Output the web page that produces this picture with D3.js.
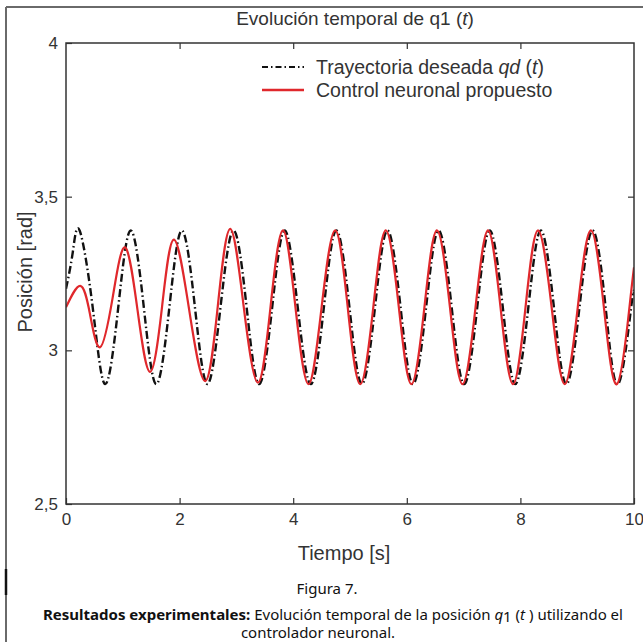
<!DOCTYPE html>
<html>
<head>
<meta charset="utf-8">
<script src="https://cdn.jsdelivr.net/npm/d3@7"></script>
<style>
  body { margin: 0; background: #fff; }
  svg { display: block; }
  .axis text { font-family: "Liberation Sans", Arial, sans-serif; font-size: 17px; fill: #333; }
  .axis line { stroke: #333; stroke-width: 1.2; }
  .lbl { font-family: "Liberation Sans", Arial, sans-serif; fill: #333; }
  .cap { font-family: "Noto Sans", "Open Sans", sans-serif; font-size: 15px; fill: #111; }
</style>
</head>
<body>
<div id="chart"></div>
<script>
// x ticks, y ticks
const xTicks = [0, 2, 4, 6, 8, 10];
const yTicks = [2.5, 3, 3.5, 4];

// desired trajectory qd(t)
const tDesired = [0, 0.12, 0.24, 0.47, 0.69, 0.92, 1.14, 1.37, 1.59, 1.82, 2.04, 2.27, 2.49, 2.72,
  2.95, 3.18, 3.40, 3.63, 3.85, 4.08, 4.31, 4.54, 4.76, 4.99, 5.21, 5.44, 5.66, 5.89, 6.11, 6.34,
  6.56, 6.79, 7.01, 7.24, 7.46, 7.69, 7.91, 8.14, 8.36, 8.59, 8.81, 9.04, 9.27, 9.50, 9.72, 9.95, 10];
const qDesired = [3.20, 3.32, 3.39, 3.14, 2.89, 3.14, 3.39, 3.14, 2.89, 3.14, 3.39, 3.14, 2.89, 3.14,
  3.39, 3.14, 2.89, 3.14, 3.39, 3.14, 2.89, 3.14, 3.39, 3.14, 2.89, 3.14, 3.39, 3.14, 2.89, 3.14,
  3.39, 3.14, 2.89, 3.14, 3.39, 3.14, 2.89, 3.14, 3.39, 3.14, 2.89, 3.14, 3.39, 3.14, 2.89, 3.14, 3.18];

// neural control response q1(t)
const tControl = [0, 0.25, 0.42, 0.60, 0.82, 1.04, 1.26, 1.48, 1.69, 1.90, 2.17, 2.45, 2.67, 2.89,
  3.13, 3.38, 3.60, 3.82, 4.04, 4.27, 4.50, 4.74, 4.96, 5.18, 5.41, 5.63, 5.86, 6.08, 6.31, 6.53,
  6.76, 6.98, 7.21, 7.43, 7.65, 7.87, 8.09, 8.31, 8.55, 8.78, 9.01, 9.24, 9.47, 9.70, 9.92, 10];
const qControl = [3.14, 3.21, 3.12, 3.01, 3.17, 3.335, 3.13, 2.93, 3.14, 3.36, 3.13, 2.90, 3.14, 3.395,
  3.14, 2.895, 3.14, 3.39, 3.14, 2.89, 3.14, 3.39, 3.14, 2.89, 3.14, 3.39, 3.14, 2.89, 3.14, 3.39,
  3.14, 2.89, 3.14, 3.39, 3.14, 2.89, 3.14, 3.39, 3.14, 2.89, 3.14, 3.39, 3.14, 2.89, 3.14, 3.27];

const W = 643, H = 642;
const margin = {top: 43, right: 9, bottom: 138, left: 66},
      width = W - margin.left - margin.right,
      height = H - margin.top - margin.bottom;

const svg = d3.select('#chart').append('svg')
    .attr('width', W)
    .attr('height', H);

// outer frame of the page
svg.append('line').attr('x1', 6).attr('x2', 6).attr('y1', 7).attr('y2', H)
    .attr('stroke', '#6a6a6a').attr('stroke-width', 2);
svg.append('line').attr('x1', 6).attr('x2', W).attr('y1', 7).attr('y2', 7)
    .attr('stroke', '#6a6a6a').attr('stroke-width', 2);
svg.append('line').attr('x1', 6).attr('x2', 6).attr('y1', 569).attr('y2', 595)
    .attr('stroke', '#111').attr('stroke-width', 2.5);

const g = svg.append('g')
    .attr('transform', `translate(${margin.left},${margin.top})`);

const x = d3.scaleLinear().domain([0, 10]).range([0, width]);
const y = d3.scaleLinear().domain([2.5, 4]).range([height, 0]);
const fmt = d => String(d).replace('.', ',');

g.append('g')
    .attr('class', 'axis')
    .attr('transform', `translate(0,${height})`)
    .call(d3.axisBottom(x).tickValues(xTicks).tickSize(-6).tickPadding(9).tickFormat(fmt))
    .call(a => a.select('.domain').remove());
g.append('g')
    .attr('class', 'axis')
    .call(d3.axisTop(x).tickValues(xTicks.slice(1, -1)).tickSize(-6).tickFormat(''))
    .call(a => a.select('.domain').remove());
g.append('g')
    .attr('class', 'axis')
    .call(d3.axisLeft(y).tickValues(yTicks).tickSize(-6).tickPadding(8).tickFormat(fmt))
    .call(a => a.select('.domain').remove());
g.append('g')
    .attr('class', 'axis')
    .attr('transform', `translate(${width},0)`)
    .call(d3.axisRight(y).tickValues(yTicks.slice(1, -1)).tickSize(-6).tickFormat(''))
    .call(a => a.select('.domain').remove());

g.append('defs').append('clipPath').attr('id', 'clip')
  .append('rect').attr('width', width).attr('height', height);

const line = d3.line()
    .x(d => x(d[0]))
    .y(d => y(d[1]))
    .curve(d3.curveNatural);

const plot = g.append('g').attr('clip-path', 'url(#clip)');

plot.append('path')
    .datum(d3.zip(tDesired, qDesired))
    .attr('fill', 'none')
    .attr('stroke', '#111')
    .attr('stroke-width', 2.4)
    .attr('stroke-dasharray', '8,3,1.5,3')
    .attr('d', line);

plot.append('path')
    .datum(d3.zip(tControl, qControl))
    .attr('fill', 'none')
    .attr('stroke', '#e0282c')
    .attr('stroke-width', 2.2)
    .attr('d', line);

// box
g.append('rect')
    .attr('width', width).attr('height', height)
    .attr('fill', 'none').attr('stroke', '#333').attr('stroke-width', 1.5);

// title
const title = svg.append('text').attr('class', 'lbl')
    .attr('x', 355).attr('y', 25)
    .attr('text-anchor', 'middle').style('font-size', '19px');
title.append('tspan').text('Evolución temporal de q1 (');
title.append('tspan').style('font-style', 'italic').text('t');
title.append('tspan').text(')');

// legend
const leg = g.append('g').attr('transform', `translate(${196},${24})`);
leg.append('line').attr('x1', 0).attr('x2', 42).attr('y1', 0).attr('y2', 0)
    .attr('stroke', '#111').attr('stroke-width', 2).attr('stroke-dasharray', '6,3,1.5,3');
const l1 = leg.append('text').attr('class', 'lbl').attr('x', 54).attr('y', 7).style('font-size', '19.5px');
l1.append('tspan').text('Trayectoria deseada ');
l1.append('tspan').style('font-style', 'italic').text('qd');
l1.append('tspan').text(' (');
l1.append('tspan').style('font-style', 'italic').text('t');
l1.append('tspan').text(')');
leg.append('line').attr('x1', 0).attr('x2', 42).attr('y1', 23).attr('y2', 23)
    .attr('stroke', '#e0282c').attr('stroke-width', 2.5);
leg.append('text').attr('class', 'lbl').attr('x', 54).attr('y', 30).style('font-size', '19.5px')
    .text('Control neuronal propuesto');

// axis labels
svg.append('text').attr('class', 'lbl')
    .attr('x', 344).attr('y', 560)
    .attr('text-anchor', 'middle').style('font-size', '20px')
    .text('Tiempo [s]');
svg.append('text').attr('class', 'lbl')
    .attr('transform', 'translate(32,272) rotate(-90)')
    .attr('text-anchor', 'middle').style('font-size', '20px')
    .text('Posición [rad]');

// caption
svg.append('text').attr('class', 'cap')
    .attr('x', 327).attr('y', 594).attr('text-anchor', 'middle')
    .text('Figura 7.');
const c1 = svg.append('text').attr('class', 'cap')
    .attr('x', 333).attr('y', 620).attr('text-anchor', 'middle');
c1.append('tspan').style('font-weight', 'bold').text('Resultados experimentales:');
c1.append('tspan').text(' Evolución temporal de la posición ');
c1.append('tspan').style('font-style', 'italic').text('q');
c1.append('tspan').attr('dy', 2).text('1');
c1.append('tspan').attr('dy', -2).text(' (');
c1.append('tspan').style('font-style', 'italic').text('t');
c1.append('tspan').text(' ) utilizando el');
svg.append('text').attr('class', 'cap')
    .attr('x', 318).attr('y', 638).attr('text-anchor', 'middle')
    .text('controlador neuronal.');
</script>
</body>
</html>
